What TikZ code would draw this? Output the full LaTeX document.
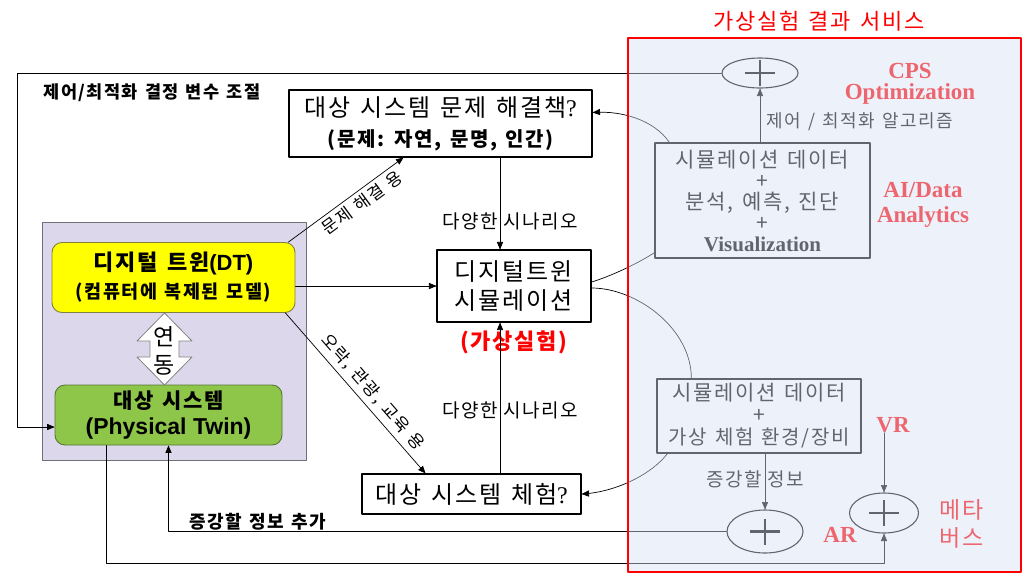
\documentclass[tikz,border=0pt]{standalone}
\usepackage{fontspec}
\setmainfont{Noto Sans CJK KR}[LetterSpace=8,WordSpace=1.35]
\newfontfamily\latsans{Liberation Sans}
\newfontfamily\latserif{Liberation Serif}
\usepackage{tikz}
\usetikzlibrary{arrows}
\usetikzlibrary{shapes.geometric}
\definecolor{dtyellow}{RGB}{255,255,0}
\definecolor{dtedge}{RGB}{128,128,64}
\definecolor{ptgreen}{RGB}{142,198,74}
\definecolor{ptedge}{RGB}{84,120,48}
\definecolor{twinlilac}{RGB}{221,215,236}
\definecolor{twinedge}{RGB}{112,112,120}
\definecolor{veil}{RGB}{217,226,244}
\definecolor{linkgray}{RGB}{130,130,130}

\begin{document}
\begin{tikzpicture}[line cap=round,line join=round,>=triangle 45,x=1pt,y=-1pt,
    sysbox/.style={draw,line width=1.1pt,fill=white,align=center,inner sep=0pt},
    twinbox/.style={draw,rounded corners=10pt,line width=0.9pt,align=center,inner sep=0pt},
    databox/.style={draw,line width=1.3pt,align=center,inner sep=0pt,font=\fontsize{21}{21}\selectfont},
    sumnode/.style={draw,ellipse,line width=1.1pt,inner sep=0pt,
      path picture={
        \draw[line width=2.8pt,line cap=butt] ([xshift=-15pt]path picture bounding box.center) -- ([xshift=15pt]path picture bounding box.center);
        \draw[line width=2.8pt,line cap=butt] ([yshift=-13pt]path picture bounding box.center) -- ([yshift=13pt]path picture bounding box.center);}},
    conn/.style={line width=0.7pt},
    note/.style={inner sep=0pt,font=\fontsize{19}{19}\selectfont},
    svc/.style={inner sep=0pt,text=red,align=center,font=\latserif\bfseries\fontsize{23}{21}\selectfont}]
    \useasboundingbox (0,0) rectangle (1024,581);
    \fill[white] (0,0) rectangle (1024,581);
    % twin panel
    \fill[twinlilac] (42,222) rectangle (306,460);
    \draw[twinedge,line width=0.8pt] (42,222) rectangle (306,460);

    % left half
    \node[sysbox,minimum width=303pt,minimum height=67pt,font=\fontsize{24}{24}\selectfont] (goal) at (440.5,123.5)
        {대상 시스템 문제 해결책{\latserif ?}\\[6pt]{\bfseries\fontsize{20}{20}\selectfont (문제: 자연, 문명, 인간)}};
    \node[sysbox,minimum width=154pt,minimum height=72pt,font=\fontsize{24}{29}\selectfont] (sim) at (514,286) {디지털트윈\\시뮬레이션};
    \node[text=red,inner sep=0pt,font=\bfseries\fontsize{22}{22}\selectfont] (virt) at (514,342) {(가상실험)};
    \node[sysbox,minimum width=219pt,minimum height=40pt,font=\fontsize{24}{24}\selectfont] (exp) at (471.5,494) {대상 시스템 체험{\latserif ?}};
    \node[twinbox,fill=dtyellow,draw=dtedge,minimum width=243pt,minimum height=70pt] (dt) at (173.5,277.5)
        {{\bfseries\fontsize{22}{22}\selectfont 디지털 트윈{\latsans (DT)}}\\[7pt]{\bfseries\fontsize{18.5}{18.5}\selectfont (컴퓨터에 복제된 모델)}};
    \node[twinbox,fill=ptgreen,draw=ptedge,minimum width=227pt,minimum height=60pt] (pt) at (168.5,415)
        {{\bfseries\fontsize{21}{21}\selectfont 대상 시스템}\\[6pt]{\latsans\bfseries\fontsize{23}{23}\selectfont (Physical Twin)}};
    \draw[linkgray,fill=white,line width=0.8pt] (164.5,313) -- (192,341) -- (179,341) -- (179,357) -- (192,357) -- (164.5,385)
        -- (137,357) -- (150,357) -- (150,341) -- (137,341) -- cycle;
    \node[align=center,inner sep=0pt,font=\fontsize{23}{28}\selectfont] (link) at (164.5,351) {연\\동};
    \node[inner sep=0pt,font=\bfseries\fontsize{17.5}{17.5}\selectfont] (tune) at (152,93) {제어/최적화 결정 변수 조절};

    % service side
    \node[sumnode,minimum width=76pt,minimum height=30pt] (opt) at (760,73) {};
    \node[databox,minimum width=215pt,minimum height=115pt] (anal) at (762.5,200.5)
        {시뮬레이션 데이터\\+\\분석, 예측, 진단\\+\\{\latserif\bfseries Visualization}};
    \node[databox,minimum width=204pt,minimum height=74pt,font=\fontsize{21}{22}\selectfont] (immersive) at (759,416)
        {시뮬레이션 데이터\\+\\{\fontsize{20}{22}\selectfont 가상 체험 환경/장비}};
    \node[sumnode,minimum width=76pt,minimum height=43pt] (arsum) at (765,531.5) {};
    \node[sumnode,minimum width=69pt,minimum height=40pt] (metasum) at (884,513) {};
    \node[svc] (cps) at (910,84) {CPS\\Optimization};
    \node[svc,font=\latserif\bfseries\fontsize{23}{25}\selectfont] (aida) at (923,205) {AI/Data\\Analytics};
    \node[svc] (vr) at (893,425) {VR};
    \node[svc] (ar) at (840,535) {AR};
    \node[text=red,align=center,inner sep=0pt,font=\fontsize{23}{28}\selectfont] (meta) at (962,524) {메타\\버스};

    % connectors
    \draw[->,conn] ([xshift=-14pt]sim.north |- goal.south) -- node[note,pos=0.7,xshift=10pt] {다양한\hspace{0.3em}시나리오} ([xshift=-14pt]sim.north);
    \draw[->,conn] ([xshift=-14pt]sim.south |- exp.north) -- node[note,pos=0.42,xshift=10pt] {다양한\hspace{0.3em}시나리오} ([xshift=-14pt]sim.south);
    \draw[->,conn] (dt.east |- sim.west) -- (sim.west);
    \draw[->,conn] ([xshift=-7pt]dt.north east) -- node[sloped,below,pos=0.58,inner sep=4pt,font=\fontsize{17}{17}\selectfont] {문제 해결 용} ([xshift=-37pt]goal.south);
    \draw[->,conn] ([xshift=-10pt]dt.south east) -- node[sloped,above,pos=0.55,inner sep=5pt,font=\fontsize{17}{17}\selectfont] {오락, 관광, 교육 용} ([xshift=-46pt]exp.north);
    \draw[->,conn] (opt.west) -- ++(-704,0) |- ([yshift=-12pt]pt.west);
    \draw[->,conn] (arsum.west) -| node[pos=0.42,above=1pt,inner sep=0pt,font=\bfseries\fontsize{18}{18}\selectfont] {증강할 정보 추가} (pt.south);
    \draw[->,conn] ([xshift=-62pt]pt.south) -- ++(0,118) -| (metasum.south);
    \draw[->,conn] (metasum.north |- vr.south) -- (metasum.north);
    \draw[->,conn] (opt.south |- anal.north) -- node[pos=0.38,right=6pt,inner sep=0pt,font=\fontsize{18}{18}\selectfont] {제어 / 최적화 알고리즘} (opt.south);
    \draw[->,conn] (arsum.north |- immersive.south) -- node[note,pos=0.46,xshift=-10pt] {증강할\hspace{0.3em}정보} (arsum.north);
    \draw[conn] ([yshift=4pt]sim.east) .. controls +(20,-6) and +(-15,10) .. ([yshift=6pt]anal.south west);
    \draw[conn] ([yshift=-2pt]sim.east) .. controls +(45,0) and +(0,-50) .. ([xshift=35pt]immersive.north west);
    \draw[->,conn] ([xshift=15pt]anal.north west) .. controls +(-15,-22) and +(30,-2) .. ([yshift=11pt]goal.east);
    \draw[->,conn] ([xshift=11pt]immersive.south west) .. controls +(-15,20) and +(35,-2) .. (exp.east);

    % veil over the service area
    \fill[veil,fill opacity=0.45] (628,38) rectangle (1021,572);
    \draw[red,line width=2.8pt] (628,38) rectangle (1021,572);
    \node[text=red,inner sep=0pt,font=\fontsize{22}{22}\selectfont] (svctitle) at (819,21) {가상실험 결과 서비스};
\end{tikzpicture}
\end{document}
